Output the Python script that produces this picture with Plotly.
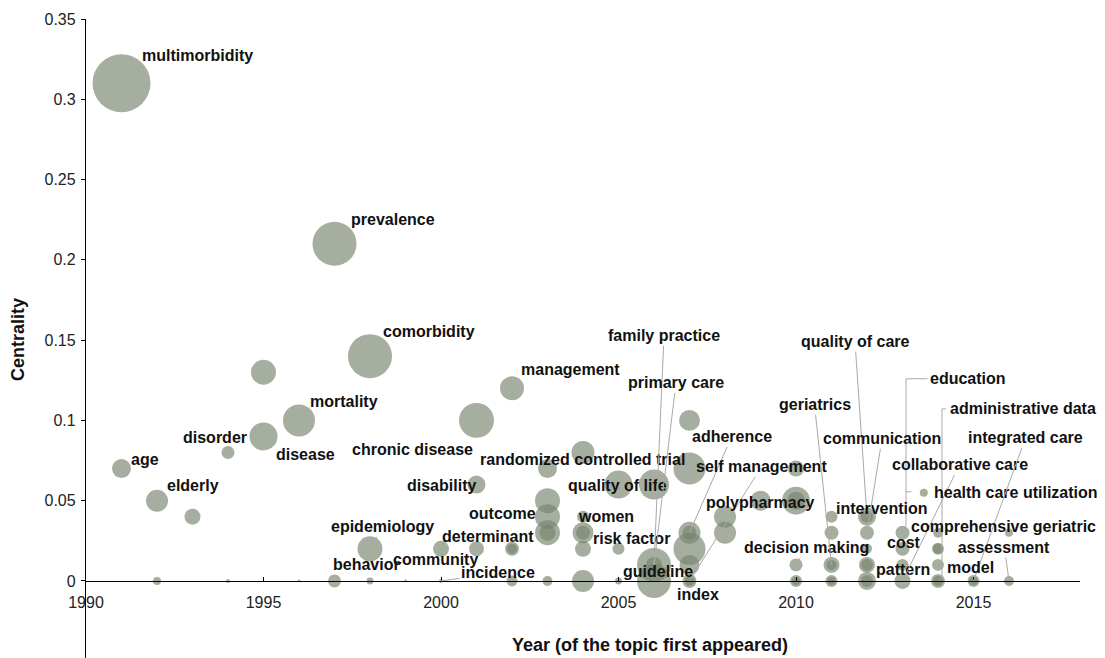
import plotly.graph_objects as go

# ---------------- data ----------------
years = [1991, 1991, 1992, 1992, 1993, 1994, 1994, 1995, 1995, 1996, 1996,
         1997, 1997, 1998, 1998, 1998, 1999, 2000, 2000,
         2001, 2001, 2001, 2002, 2002, 2002, 2002,
         2003, 2003, 2003, 2003, 2003, 2003,
         2004, 2004, 2004, 2004, 2004, 2004,
         2005, 2005, 2005, 2006, 2006, 2006, 2006,
         2007, 2007, 2007, 2007, 2007, 2007, 2007, 2007,
         2008, 2008, 2009,
         2010, 2010, 2010, 2010, 2010, 2010,
         2011, 2011, 2011, 2011, 2011, 2011,
         2012, 2012, 2012, 2012, 2012, 2012, 2012, 2012,
         2013, 2013, 2013, 2013, 2013.6,
         2014, 2014, 2014, 2014, 2014, 2014,
         2015, 2015, 2016, 2016]

centrality = [0.31, 0.07, 0.05, 0.0, 0.04, 0.08, 0.0, 0.13, 0.09, 0.10, 0.0,
              0.21, 0.0, 0.14, 0.02, 0.0, 0.0, 0.02, 0.0,
              0.10, 0.06, 0.02, 0.12, 0.02, 0.02, 0.0,
              0.07, 0.05, 0.04, 0.03, 0.03, 0.0,
              0.08, 0.04, 0.03, 0.03, 0.02, 0.0,
              0.06, 0.02, 0.0, 0.06, 0.01, 0.01, 0.0,
              0.10, 0.07, 0.03, 0.03, 0.02, 0.01, 0.0, 0.0,
              0.04, 0.03, 0.05,
              0.07, 0.05, 0.05, 0.01, 0.0, 0.0,
              0.04, 0.03, 0.01, 0.01, 0.0, 0.0,
              0.04, 0.04, 0.03, 0.02, 0.01, 0.01, 0.0, 0.0,
              0.03, 0.02, 0.01, 0.0, 0.055,
              0.03, 0.02, 0.02, 0.01, 0.0, 0.0,
              0.0, 0.0, 0.03, 0.0]

frequency = [841, 90, 121, 16, 64, 42, 4, 156, 196, 256, 2,
             484, 42, 484, 156, 12, 2, 64, 4,
             306, 81, 56, 144, 49, 25, 30,
             90, 156, 156, 156, 64, 25,
             132, 36, 110, 49, 64, 121,
             196, 36, 12, 225, 289, 64, 289,
             110, 256, 121, 49, 256, 100, 49, 25,
             121, 121, 100,
             64, 196, 81, 42, 36, 16,
             36, 49, 64, 25, 36, 16,
             81, 36, 49, 25, 64, 36, 81, 36,
             49, 49, 36, 64, 16,
             25, 36, 25, 36, 49, 25,
             36, 16, 16, 25]

terms = ["multimorbidity", "age", "elderly", "", "", "disorder", "", "", "disease", "mortality", "",
         "prevalence", "", "comorbidity", "epidemiology", "behavior", "", "community", "incidence",
         "chronic disease", "disability", "", "management", "determinant", "", "",
         "randomized controlled trial", "", "outcome", "", "", "",
         "", "women", "", "", "", "",
         "quality of life", "risk factor", "", "", "family practice", "primary care", "guideline",
         "", "", "adherence", "", "", "", "self management", "index",
         "", "", "polypharmacy",
         "", "", "", "decision making", "", "",
         "", "", "geriatrics", "", "", "",
         "quality of care", "intervention", "communication", "", "", "", "", "",
         "education", "cost", "pattern", "collaborative care", "health care utilization",
         "", "", "", "", "administrative data", "",
         "integrated care", "model", "", "comprehensive geriatric assessment"]

x_ticks = [1990, 1995, 2000, 2005, 2010, 2015]
y_ticks = [0, 0.05, 0.1, 0.15, 0.2, 0.25, 0.3, 0.35]
y_ticktext = ["0", "0.05", "0.1", "0.15", "0.2", "0.25", "0.3", "0.35"]

# ---------------- label layout (pixel offsets from the bubble) ----------------
# term: (dx, dy, leader line?)
label_layout = {
    "multimorbidity": (76, -28, False),
    "prevalence": (58, -24, False),
    "comorbidity": (59, -25, False),
    "mortality": (45, -19, False),
    "disorder": (-13, -15, False),
    "disease": (42, 18, False),
    "age": (23, -9, False),
    "elderly": (36, -15, False),
    "chronic disease": (-64, 29, False),
    "management": (58, -19, False),
    "disability": (-35, 1, False),
    "randomized controlled trial": (35, -9, False),
    "quality of life": (-1, 1, False),
    "outcome": (-45, -3, False),
    "women": (23, 0, False),
    "determinant": (-24, -12, False),
    "risk factor": (13, -10, False),
    "epidemiology": (12, -22, True),
    "behavior": (-4, -16, False),
    "community": (-6, 11, False),
    "incidence": (57, -8, True),
    "family practice": (10, -229, True),
    "primary care": (22, -182, True),
    "guideline": (4, -9, False),
    "adherence": (42, -96, True),
    "self management": (72, -114, True),
    "index": (8, 14, False),
    "polypharmacy": (0, 2, False),
    "decision making": (10, -17, True),
    "geriatrics": (-17, -160, True),
    "quality of care": (-12, -175, True),
    "communication": (15, -94, True),
    "intervention": (15, -8, False),
    "education": (65, -154, False),
    "administrative data": (85, -172, False),
    "integrated care": (52, -143, True),
    "collaborative care": (57, -116, True),
    "health care utilization": (92, 0, False),
    "cost": (1, -6, False),
    "pattern": (0, 5, False),
    "comprehensive geriatric assessment": (-6, -44, True),
    "model": (-3, -13, False),
}

# elbow-shaped leaders (pixel paths relative to the bubble, y upwards)
elbow_leaders = {
    "education": "M 0,0 L 3.5,8 L 3.5,154 L 25,154 M 3.5,41 L 9,41",
    "administrative data": "M 0,0 L 4,4 L 4,172 L 8,172",
}

FONT = "Liberation Sans, Arial, sans-serif"
LEADER = "#a9a9a9"

fig = go.Figure()
fig.add_trace(go.Scatter(
    x=years, y=centrality, mode="markers",
    marker=dict(size=frequency, sizemode="area", sizeref=0.5,
                color="rgb(118,131,109)", opacity=0.65, line=dict(width=0)),
    text=terms, hoverinfo="text+x+y", cliponaxis=False, showlegend=False,
))

annotations = []
shapes = []
for xv, yv, t in zip(years, centrality, terms):
    if not t:
        continue
    dx, dy, leader = label_layout[t]
    txt = t
    if t == "comprehensive geriatric assessment":
        txt = "comprehensive geriatric<br>assessment"
    annotations.append(dict(
        x=xv, y=yv, xref="x", yref="y", text=txt, showarrow=True,
        ax=dx, ay=dy, arrowhead=0, arrowwidth=1, standoff=0,
        arrowcolor=LEADER if leader else "rgba(0,0,0,0)",
        font=dict(family=FONT, size=16, color="#111111", weight="bold"),
        align="center",
    ))
    if t in elbow_leaders:
        shapes.append(dict(
            type="path", xref="x", yref="y", xsizemode="pixel", ysizemode="pixel",
            xanchor=xv, yanchor=yv, path=elbow_leaders[t],
            line=dict(color=LEADER, width=1), layer="above",
        ))

# figure is drawn 8px in from the page corner; sizes below account for that
W, H = 1097, 650
L, R, T, B = 78, 25, 11, 0

# axis titles
annotations.append(dict(
    text="Year (of the topic first appeared)", xref="paper", yref="paper",
    x=(642 - L) / (W - L - R), y=(H - 637) / (H - T - B),
    xanchor="center", yanchor="middle", showarrow=False,
    font=dict(family=FONT, size=18, color="#111111", weight="bold"),
))
annotations.append(dict(
    text="Centrality", xref="paper", yref="paper", textangle=-90,
    x=(10 - L) / (W - L - R), y=(H - 332) / (H - T - B),
    xanchor="center", yanchor="middle", showarrow=False,
    font=dict(family=FONT, size=18, color="#111111", weight="bold"),
))

y_min, y_max = -0.048, 0.35
fig.update_layout(
    width=W, height=H, autosize=False,
    margin=dict(l=L, r=R, t=T, b=B, pad=0),
    paper_bgcolor="white", plot_bgcolor="white",
    annotations=annotations, shapes=shapes,
    xaxis=dict(range=[1990, 2018], anchor="free", position=(0 - y_min) / (y_max - y_min),
               showline=True, linecolor="#000000", linewidth=1.3,
               ticks="inside", ticklen=4, tickcolor="#000000", tickwidth=1,
               tickvals=x_ticks, showgrid=False, zeroline=False,
               ticklabelstandoff=7,
               tickfont=dict(family=FONT, size=16, color="#222222")),
    yaxis=dict(range=[y_min, y_max], showline=True, linecolor="#000000", linewidth=1.3,
               ticks="outside", ticklen=4, tickcolor="#000000", tickwidth=1,
               tickvals=y_ticks, ticktext=y_ticktext, showgrid=False, zeroline=False,
               ticklabelstandoff=2,
               tickfont=dict(family=FONT, size=16, color="#222222")),
)

fig.write_html("out.html")
